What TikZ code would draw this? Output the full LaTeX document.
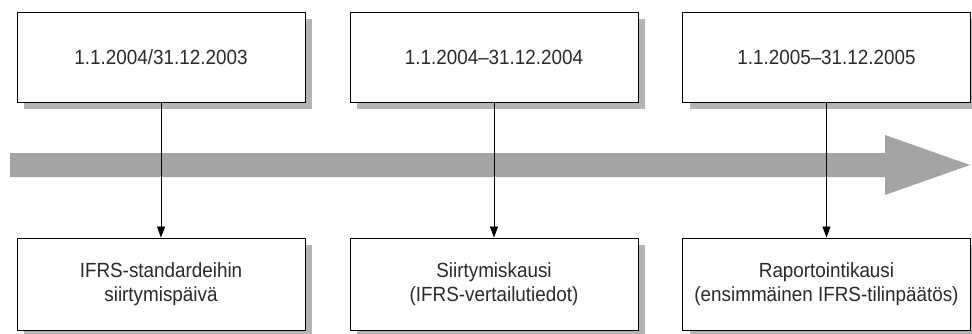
\documentclass[tikz,border=0pt]{standalone}
\usepackage{fontspec}
\setmainfont{Liberation Sans}[FakeStretch=0.92]
\usetikzlibrary{shadows,arrows.meta}
\definecolor{txt}{HTML}{2A2A2A}
\definecolor{band}{HTML}{A4A4A4}
\definecolor{shad}{HTML}{B4B4B4}
\tikzset{
  datebox/.style={draw=black, line width=0.9pt, fill=white, minimum width=288pt, minimum height=90pt,
    inner sep=0pt, text=txt, font=\fontsize{20.5}{24}\selectfont, align=center,
    drop shadow={shadow xshift=7pt, shadow yshift=-7pt, fill=shad, opacity=1}},
  infobox/.style={datebox, minimum height=92pt},
  conn/.style={draw=black, line width=0.8pt, -{Triangle[width=8pt,length=11pt]}}
}
\begin{document}
\begin{tikzpicture}[x=1pt,y=-1pt]
\useasboundingbox (0,0) rectangle (972,333);
% big timeline arrow
\fill[band] (10,153) -- (885,153) -- (885,135) -- (970,165) -- (885,195) -- (885,177) -- (10,177) -- cycle;
% boxes
\node[datebox] (t1) at (161,57) {1.1.2004/31.12.2003};
\node[datebox] (t2) at (494,57) {1.1.2004–31.12.2004};
\node[datebox] (t3) at (826.5,57) {1.1.2005–31.12.2005};
\node[infobox] (b1) at (161,284) {IFRS-standardeihin\\siirtymispäivä};
\node[infobox] (b2) at (494,284) {Siirtymiskausi\\(IFRS-vertailutiedot)};
\node[infobox] (b3) at (826.5,284) {Raportointikausi\\(ensimmäinen IFRS-tilinpäätös)};
% connectors
\draw[conn] (t1) -- (b1);
\draw[conn] (t2) -- (b2);
\draw[conn] (t3) -- (b3);
\end{tikzpicture}
\end{document}
